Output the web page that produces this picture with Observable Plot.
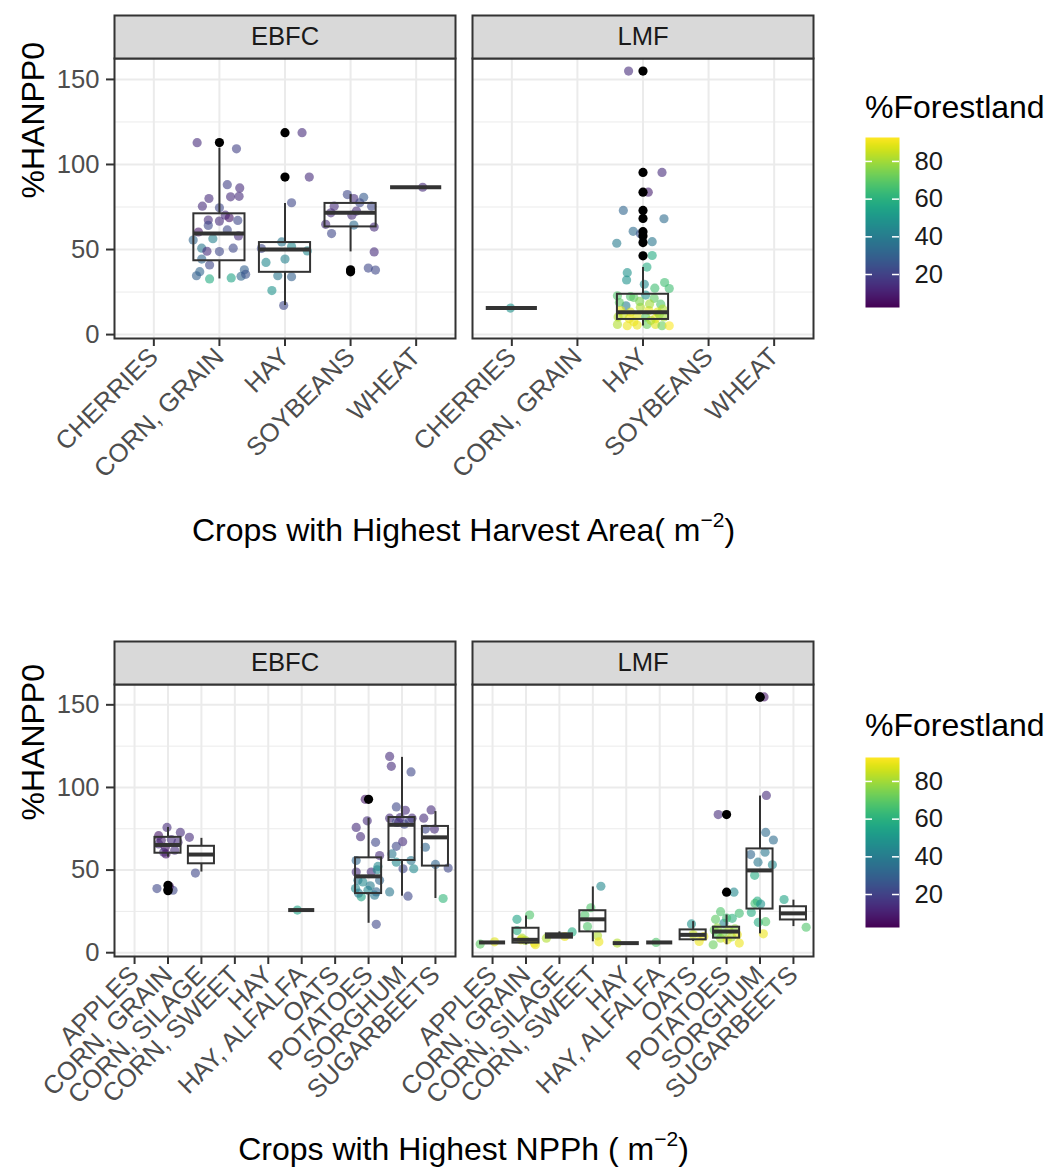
<!DOCTYPE html>
<html><head><meta charset="utf-8">
<script src="https://cdn.jsdelivr.net/npm/d3@7"></script>
<script src="https://cdn.jsdelivr.net/npm/@observablehq/plot@0.6"></script>
<style>
body{margin:0;background:#fff;font-family:"Liberation Sans",Arial,Helvetica,sans-serif;}
#root{position:relative;width:1055px;height:1175px;overflow:hidden;background:#fff;}
.abs{position:absolute;}
.xtitle{font-size:32px;line-height:36px;color:#000;text-align:center;white-space:nowrap;}
.xtitle sup{font-size:21px;line-height:0;vertical-align:0;position:relative;top:-14px;}
.ltitle{font-size:32px;line-height:36px;color:#000;white-space:nowrap;}
</style></head><body><div id="root"></div>
<script>
// ---------------- DATA ----------------
const facets = ["EBFC", "LMF"];
const forestDomain = [2.5, 92.7];
const yTicks = [0, 50, 100, 150];
const yMinor = [25, 75, 125];
const legendTicks = [20, 40, 60, 80];

const cropsArea = ["CHERRIES", "CORN, GRAIN", "HAY", "SOYBEANS", "WHEAT"];
const cropsNpp = ["APPLES", "CORN, GRAIN", "CORN, SILAGE", "CORN, SWEET", "HAY", "HAY, ALFALFA", "OATS", "POTATOES", "SORGHUM", "SUGARBEETS"];

// jittered points: [crop, jitter offset, %HANPP0, %Forestland]
const areaEBFC = [
  ["CORN, GRAIN",-0.34,112.8,14],["CORN, GRAIN",0.26,109.2,20],["CORN, GRAIN",0.12,88.1,20],["CORN, GRAIN",0.31,86.2,14],
  ["CORN, GRAIN",-0.16,80.0,14],["CORN, GRAIN",0.17,81.0,14],["CORN, GRAIN",0.30,81.3,14],["CORN, GRAIN",-0.26,75.5,14],
  ["CORN, GRAIN",0.0,74.5,22],["CORN, GRAIN",0.09,70.2,14],["CORN, GRAIN",0.15,68.7,8],["CORN, GRAIN",-0.17,67.3,14],
  ["CORN, GRAIN",0.0,66.7,14],["CORN, GRAIN",0.28,67.1,22],["CORN, GRAIN",-0.17,64.2,22],["CORN, GRAIN",0.12,61.5,22],
  ["CORN, GRAIN",-0.32,60.3,8],["CORN, GRAIN",0.29,58.0,14],["CORN, GRAIN",-0.40,55.6,32],["CORN, GRAIN",-0.10,56.4,42],
  ["CORN, GRAIN",-0.27,50.8,38],["CORN, GRAIN",-0.19,49.0,14],["CORN, GRAIN",0.0,48.8,22],["CORN, GRAIN",0.21,50.8,22],
  ["CORN, GRAIN",-0.27,44.4,32],["CORN, GRAIN",-0.15,40.9,22],["CORN, GRAIN",-0.30,37.0,32],["CORN, GRAIN",-0.35,34.6,30],
  ["CORN, GRAIN",-0.15,32.7,58],["CORN, GRAIN",0.18,33.3,55],["CORN, GRAIN",0.33,34.3,32],["CORN, GRAIN",0.38,38.1,30],
  ["CORN, GRAIN",0.40,35.4,26],
  ["HAY",0.26,118.7,14],["HAY",0.37,92.6,14],["HAY",0.10,77.5,22],["HAY",-0.05,54.5,38],["HAY",0.10,51.8,45],
  ["HAY",0.34,49.2,45],["HAY",-0.36,50.6,22],["HAY",-0.29,42.4,45],["HAY",0.0,44.4,42],["HAY",-0.11,34.6,38],
  ["HAY",0.10,34.0,30],["HAY",-0.20,25.9,48],["HAY",-0.02,17.1,22],
  ["SOYBEANS",-0.05,82.3,22],["SOYBEANS",0.05,80.0,14],["SOYBEANS",0.20,80.7,28],["SOYBEANS",0.14,77.5,22],
  ["SOYBEANS",0.32,75.5,22],["SOYBEANS",-0.25,75.5,14],["SOYBEANS",0.09,72.6,14],["SOYBEANS",-0.30,71.6,14],
  ["SOYBEANS",0.02,70.2,14],["SOYBEANS",-0.38,64.8,14],["SOYBEANS",0.05,64.4,34],["SOYBEANS",0.36,63.2,14],
  ["SOYBEANS",-0.29,59.4,22],["SOYBEANS",0.36,48.6,14],["SOYBEANS",0.27,39.1,22],["SOYBEANS",0.38,37.9,22],
  ["WHEAT",0.10,86.6,14]
];
const areaLMF = [
  ["CHERRIES",-0.02,15.6,48],
  ["HAY",-0.22,154.9,14],["HAY",0.29,95.3,14],["HAY",0.08,83.7,10],["HAY",-0.30,73.0,32],["HAY",0.32,68.1,34],
  ["HAY",-0.15,60.7,34],["HAY",-0.04,59.3,26],["HAY",0.14,54.6,38],["HAY",-0.40,53.7,40],["HAY",0.14,46.5,58],
  ["HAY",0.06,39.7,58],["HAY",-0.24,36.4,48],["HAY",-0.25,32.1,48],["HAY",0.02,29.6,45],["HAY",0.33,30.6,65],
  ["HAY",0.40,27.1,65],["HAY",0.18,27.3,65],["HAY",-0.39,22.8,68],["HAY",-0.19,22.4,68],["HAY",0.04,23.2,48],
  ["HAY",-0.14,21.8,70],["HAY",0.17,21.3,70],["HAY",-0.26,16.9,40],["HAY",-0.36,18.8,70],["HAY",0.27,17.9,68],
  ["HAY",0.30,15.0,82],["HAY",-0.34,14.1,90],["HAY",-0.19,13.2,88],["HAY",-0.04,16.0,82],["HAY",0.09,14.1,90],
  ["HAY",0.22,13.2,88],["HAY",-0.38,10.4,82],["HAY",-0.21,9.4,90],["HAY",-0.09,11.3,88],["HAY",0.04,10.4,70],
  ["HAY",0.19,9.4,90],["HAY",0.32,10.4,80],["HAY",-0.39,6.0,82],["HAY",-0.24,5.2,90],["HAY",-0.09,5.6,90],
  ["HAY",0.06,6.0,72],["HAY",0.19,6.0,88],["HAY",0.29,5.2,72],["HAY",0.40,5.2,92],["HAY",-0.14,7.5,90],
  ["HAY",0.12,8.4,82],["HAY",-0.30,12.0,85],["HAY",0.25,12.0,78],["HAY",-0.05,19.5,75],["HAY",0.10,18.0,80]
];
// boxes: [facet, crop, lower whisker, Q1, median, Q3, upper whisker]
const areaBoxes = [
  ["EBFC","CORN, GRAIN",32.7,43.4,59.4,71.0,109.6],
  ["EBFC","HAY",17.1,36.6,50.0,54.1,77.1],
  ["EBFC","SOYBEANS",48.6,63.3,71.6,77.1,82.3],
  ["EBFC","WHEAT",86.6,86.6,86.6,86.6,86.6],
  ["LMF","CHERRIES",15.6,15.6,15.6,15.6,15.6],
  ["LMF","HAY",5.0,8.9,13.2,23.7,39.5]
];
const areaOutliers = [
  ["EBFC","CORN, GRAIN",112.9],["EBFC","HAY",118.7],["EBFC","HAY",92.6],["EBFC","SOYBEANS",38.1],["EBFC","SOYBEANS",36.9],
  ["LMF","HAY",154.9],["LMF","HAY",95.3],["LMF","HAY",83.7],["LMF","HAY",73.0],["LMF","HAY",68.3],
  ["LMF","HAY",60.5],["LMF","HAY",58.0],["LMF","HAY",54.1],["LMF","HAY",46.3]
];

const nppEBFC = [
  ["CORN, GRAIN",-0.03,75.8,14],["CORN, GRAIN",-0.28,70.8,8],["CORN, GRAIN",0.37,72.8,14],["CORN, GRAIN",-0.28,65.8,14],
  ["CORN, GRAIN",-0.08,63.8,8],["CORN, GRAIN",0.30,66.8,14],["CORN, GRAIN",-0.13,60.8,14],["CORN, GRAIN",-0.06,59.8,8],
  ["CORN, GRAIN",-0.33,38.8,22],["CORN, GRAIN",0.15,37.8,22],["CORN, GRAIN",0.04,40.2,8],["CORN, GRAIN",0.10,68.5,14],
  ["CORN, GRAIN",-0.20,68.0,10],["CORN, GRAIN",0.20,62.0,14],
  ["CORN, SILAGE",-0.36,69.8,14],["CORN, SILAGE",-0.18,48.2,22],
  ["HAY, ALFALFA",-0.13,25.8,55],
  ["POTATOES",-0.10,92.8,8],["POTATOES",-0.04,79.8,14],["POTATOES",-0.37,75.8,14],["POTATOES",-0.24,70.2,14],
  ["POTATOES",0.21,66.8,22],["POTATOES",0.33,58.8,14],["POTATOES",-0.37,55.8,32],["POTATOES",0.28,52.2,45],
  ["POTATOES",-0.37,48.8,14],["POTATOES",0.08,48.8,14],["POTATOES",0.26,50.2,45],["POTATOES",-0.32,43.8,38],
  ["POTATOES",-0.17,42.8,45],["POTATOES",0.33,43.8,32],["POTATOES",-0.39,38.8,45],["POTATOES",-0.02,37.8,45],
  ["POTATOES",0.23,36.8,32],["POTATOES",-0.22,33.8,55],["POTATOES",0.18,34.8,38],["POTATOES",0.23,17.2,22],
  ["POTATOES",0.05,40.5,40],["POTATOES",-0.30,36.0,40],
  ["SORGHUM",-0.37,118.8,14],["SORGHUM",-0.32,112.8,14],["SORGHUM",0.27,109.4,22],["SORGHUM",-0.17,88.2,22],
  ["SORGHUM",0.10,86.2,14],["SORGHUM",-0.37,81.4,14],["SORGHUM",0.30,81.4,14],["SORGHUM",-0.05,81.8,14],
  ["SORGHUM",-0.17,78.8,22],["SORGHUM",0.07,77.8,22],["SORGHUM",0.02,67.2,14],["SORGHUM",-0.17,64.4,22],
  ["SORGHUM",-0.30,59.8,38],["SORGHUM",-0.17,54.8,45],["SORGHUM",0.27,55.8,38],["SORGHUM",0.03,50.8,22],
  ["SORGHUM",0.35,50.8,45],["SORGHUM",-0.37,36.8,38],["SORGHUM",0.18,34.2,22],["SORGHUM",0.22,80.0,20],
  ["SORGHUM",-0.10,79.0,14],
  ["SUGARBEETS",-0.13,86.4,14],["SUGARBEETS",-0.35,81.4,14],["SUGARBEETS",-0.30,74.8,22],["SUGARBEETS",-0.03,74.8,14],
  ["SUGARBEETS",-0.30,63.8,32],["SUGARBEETS",0.0,53.4,32],["SUGARBEETS",0.38,51.2,22],["SUGARBEETS",0.23,32.8,62]
];
const nppLMF = [
  ["APPLES",-0.37,5.2,70],["APPLES",0.06,6.6,88],
  ["CORN, GRAIN",-0.27,20.2,55],["CORN, GRAIN",0.11,22.8,68],["CORN, GRAIN",-0.27,13.4,58],["CORN, GRAIN",-0.12,8.8,82],
  ["CORN, GRAIN",-0.02,7.4,82],["CORN, GRAIN",0.25,5.8,90],["CORN, GRAIN",0.28,4.8,90],["CORN, GRAIN",-0.15,7.8,88],
  ["CORN, SILAGE",-0.39,8.8,82],["CORN, SILAGE",0.16,9.8,90],["CORN, SILAGE",0.38,12.6,58],
  ["CORN, SWEET",0.24,40.2,45],["CORN, SWEET",-0.06,27.2,68],["CORN, SWEET",-0.24,22.8,68],["CORN, SWEET",-0.16,15.8,68],
  ["CORN, SWEET",0.14,10.2,82],["CORN, SWEET",0.18,6.6,90],
  ["HAY",-0.27,5.8,82],
  ["HAY, ALFALFA",-0.11,6.2,68],
  ["OATS",-0.05,17.4,48],["OATS",0.18,6.8,90],["OATS",0.32,9.8,90],["OATS",0.0,11.0,85],
  ["POTATOES",-0.25,83.6,14],["POTATOES",0.22,36.6,45],["POTATOES",-0.18,24.8,68],["POTATOES",0.38,23.8,65],
  ["POTATOES",-0.33,20.2,70],["POTATOES",0.17,20.8,60],["POTATOES",-0.08,17.8,45],["POTATOES",-0.37,13.8,72],
  ["POTATOES",-0.28,15.0,78],["POTATOES",0.07,13.8,82],["POTATOES",0.32,10.8,90],["POTATOES",-0.40,4.8,72],
  ["POTATOES",-0.18,8.8,82],["POTATOES",0.02,7.8,90],["POTATOES",0.38,5.8,90],["POTATOES",-0.28,11.0,70],
  ["POTATOES",0.15,9.5,82],["POTATOES",-0.10,12.0,75],["POTATOES",0.25,14.5,78],["POTATOES",0.0,21.0,65],
  ["SORGHUM",0.12,154.8,8],["SORGHUM",0.19,95.2,14],["SORGHUM",0.17,72.8,34],["SORGHUM",0.40,68.2,34],
  ["SORGHUM",0.15,60.8,38],["SORGHUM",-0.28,59.4,32],["SORGHUM",-0.06,54.8,38],["SORGHUM",0.37,53.2,45],
  ["SORGHUM",-0.16,46.8,58],["SORGHUM",-0.08,31.2,58],["SORGHUM",-0.15,29.8,65],["SORGHUM",0.02,29.4,48],
  ["SORGHUM",-0.26,24.4,58],["SORGHUM",-0.05,18.4,58],["SORGHUM",0.17,18.8,68],["SORGHUM",0.10,11.4,90],
  ["SUGARBEETS",-0.28,32.2,55],["SUGARBEETS",0.38,15.4,68]
];
const nppBoxes = [
  ["EBFC","CORN, GRAIN",57.8,60.2,65.2,69.8,75.8],
  ["EBFC","CORN, SILAGE",48.8,53.8,59.4,64.4,69.2],
  ["EBFC","HAY, ALFALFA",25.8,25.8,25.8,25.8,25.8],
  ["EBFC","POTATOES",17.8,35.8,46.2,57.4,81.4],
  ["EBFC","SORGHUM",34.2,55.8,77.4,81.8,118.2],
  ["EBFC","SUGARBEETS",32.8,52.4,69.8,76.4,85.4],
  ["LMF","APPLES",6.2,6.2,6.2,6.2,6.2],
  ["LMF","CORN, GRAIN",4.8,5.8,7.8,14.8,22.2],
  ["LMF","CORN, SILAGE",8.8,8.8,10.2,11.4,12.6],
  ["LMF","CORN, SWEET",6.6,12.6,20.2,25.4,39.8],
  ["LMF","HAY",5.8,5.8,5.8,5.8,5.8],
  ["LMF","HAY, ALFALFA",6.2,6.2,6.2,6.2,6.2],
  ["LMF","OATS",6.8,7.8,10.8,13.8,18.8],
  ["LMF","POTATOES",4.8,8.8,12.8,15.4,22.8],
  ["LMF","SORGHUM",11.4,26.4,49.8,62.8,94.8],
  ["LMF","SUGARBEETS",15.8,19.8,23.8,27.8,31.8]
];
const nppOutliers = [
  ["EBFC","CORN, GRAIN",40.8],["EBFC","CORN, GRAIN",38.2],["EBFC","CORN, GRAIN",37.5],["EBFC","POTATOES",92.8],
  ["LMF","POTATOES",83.6],["LMF","POTATOES",36.6],["LMF","SORGHUM",154.8],["LMF","SORGHUM",154.6]
];

// ---------------- DRAWING ----------------
const FONT = '"Liberation Sans", Arial, Helvetica, sans-serif';
const DARK = "#333333";

function panelChart({crops, ebfc, lmf, boxes, outliers, height, marginTop, marginBottom, yDomain, stripH}) {
  const n = crops.length;
  const idx = new Map(crops.map((c, i) => [c, i]));
  const pts = [
    ...ebfc.map(([c, dx, v, f]) => ({facet: "EBFC", x: idx.get(c) + dx, value: v, forest: f})),
    ...lmf.map(([c, dx, v, f]) => ({facet: "LMF", x: idx.get(c) + dx, value: v, forest: f}))
  ];
  const bx = boxes.map(([facet, c, lo, q1, med, q3, hi]) => ({facet, i: idx.get(c), lo, q1, med, q3, hi}));
  const outs = outliers.map(([facet, c, v]) => ({facet, i: idx.get(c), value: v}));
  const W = 0.39;
  const panelH = height - marginTop - marginBottom;
  return Plot.plot({
    width: 1055, height, marginTop, marginBottom, marginLeft: 113, marginRight: 241,
    style: {fontFamily: FONT, background: "white", overflow: "visible"},
    fx: {domain: facets, paddingInner: 0.04735, paddingOuter: 0, axis: null, label: null},
    x: {domain: [-0.6, n - 0.4], axis: null},
    y: {domain: yDomain, axis: null},
    color: {type: "linear", scheme: "viridis", domain: forestDomain},
    marks: [
      Plot.ruleY(yMinor, {stroke: "#EBEBEB", strokeWidth: 1}),
      Plot.ruleY(yTicks, {stroke: "#EBEBEB", strokeWidth: 2}),
      Plot.ruleX(d3.range(n), {stroke: "#EBEBEB", strokeWidth: 2}),
      Plot.dot(pts, {fx: "facet", x: "x", y: "value", fill: "forest", fillOpacity: 0.6, r: 4.6}),
      Plot.ruleX(bx, {fx: "facet", x: "i", y1: "q3", y2: "hi", stroke: DARK, strokeWidth: 2}),
      Plot.ruleX(bx, {fx: "facet", x: "i", y1: "lo", y2: "q1", stroke: DARK, strokeWidth: 2}),
      Plot.rect(bx, {fx: "facet", x1: d => d.i - W, x2: d => d.i + W, y1: "q1", y2: "q3", fill: "none", stroke: DARK, strokeWidth: 2}),
      Plot.ruleY(bx, {fx: "facet", x1: d => d.i - W, x2: d => d.i + W, y: "med", stroke: DARK, strokeWidth: 4}),
      Plot.dot(outs, {fx: "facet", x: "i", y: "value", fill: "black", r: 4.6}),
      Plot.frame({stroke: DARK, strokeWidth: 2}),
      Plot.frame({fill: "#D9D9D9", stroke: DARK, strokeWidth: 2, insetTop: -stripH, insetBottom: panelH}),
      Plot.text(facets, {fx: d => d, text: d => d, frameAnchor: "top", lineAnchor: "middle", dy: -stripH / 2, fontSize: 25.6, fill: "#1A1A1A"}),
      Plot.axisY(yTicks, {anchor: "left", tickSize: 8, tickPadding: 7, fontSize: 25.6, fill: "#4D4D4D", stroke: DARK, strokeWidth: 2, label: null}),
      Plot.axisX(d3.range(n), {anchor: "bottom", tickFormat: i => crops[i], tickRotate: -45, tickSize: 8, tickPadding: 6, fontSize: 25.6, fill: "#4D4D4D", stroke: DARK, strokeWidth: 2, label: null}),
      Plot.text(["%HANPP0"], {fx: () => "EBFC", text: d => d, frameAnchor: "left", rotate: -90, dx: -81, fontSize: 32, fill: "black"})
    ]
  });
}

function legendPlot() {
  return Plot.plot({
    width: 205, height: 200, marginLeft: 15, marginRight: 156, marginTop: 12, marginBottom: 18,
    style: {fontFamily: FONT, background: "transparent", overflow: "visible"},
    x: {domain: [0, 1], axis: null},
    y: {domain: forestDomain, axis: null},
    color: {type: "linear", scheme: "viridis", domain: forestDomain},
    marks: [
      Plot.raster({x1: 0, x2: 1, y1: forestDomain[0], y2: forestDomain[1], width: 1, height: 170, fill: (x, y) => y, imageRendering: "auto"}),
      Plot.tickY(legendTicks, {y: d => d, stroke: "white", strokeWidth: 1.5, insetRight: 27}),
      Plot.tickY(legendTicks, {y: d => d, stroke: "white", strokeWidth: 1.5, insetLeft: 27}),
      Plot.axisY(legendTicks, {anchor: "right", tickSize: 0, tickPadding: 15, fontSize: 25.6, fill: "#1A1A1A", label: null})
    ]
  });
}

const root = document.getElementById("root");
function place(el, left, top) {
  el.classList.add("abs");
  el.style.left = left + "px";
  el.style.top = top + "px";
  root.appendChild(el);
  return el;
}
function html(cls, inner, left, top, width) {
  const d = document.createElement("div");
  d.className = cls;
  d.innerHTML = inner;
  if (width) d.style.width = width + "px";
  return place(d, left, top);
}

const yDomain = [-2.3, 162.3];
place(panelChart({crops: cropsArea, ebfc: areaEBFC, lmf: areaLMF, boxes: areaBoxes, outliers: areaOutliers,
  height: 560, marginTop: 58, marginBottom: 222, yDomain, stripH: 43}), 0, 0);
place(panelChart({crops: cropsNpp, ebfc: nppEBFC, lmf: nppLMF, boxes: nppBoxes, outliers: nppOutliers,
  height: 575, marginTop: 84, marginBottom: 219, yDomain, stripH: 43}), 0, 600);

html("xtitle", "Crops with Highest Harvest Area( m<sup>&minus;2</sup>)", 113, 512, 701);
html("xtitle", "Crops with Highest NPPh ( m<sup>&minus;2</sup>)", 113, 1131, 701);

html("ltitle", "%Forestland", 865, 89);
place(legendPlot(), 850, 125);
html("ltitle", "%Forestland", 865, 707);
place(legendPlot(), 850, 745);
</script></body></html>
